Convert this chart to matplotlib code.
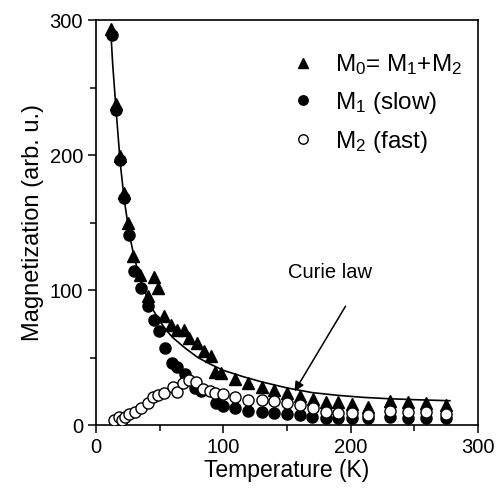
import matplotlib
matplotlib.use('Agg')
import matplotlib.pyplot as plt
from matplotlib.ticker import MultipleLocator

plt.rcParams['font.family'] = ['Liberation Sans', 'DejaVu Sans']
plt.rcParams['mathtext.fontset'] = 'custom'
plt.rcParams['mathtext.rm'] = 'Liberation Sans'
plt.rcParams['mathtext.it'] = 'Liberation Sans'

# M0 = M1 + M2 (triangles)
t0 = [11.8, 15.5, 18.9, 22, 25.4, 28.8, 34.6, 40.6, 45.6, 49, 53.4, 58.7, 63.9, 69.4,
      73.3, 79.1, 84.8, 90.1, 93.5, 98.5, 109, 119.6, 130, 140, 150, 160, 170.5,
      180.7, 190.3, 200.8, 213.8, 230.9, 245.3, 259.2, 274.9]
m0 = [293, 238, 199, 172, 150, 125, 111.5, 95.4, 110, 101.6, 80.5, 74.3, 70.6, 70.6,
      64.5, 60.7, 54.5, 50.8, 39.6, 38.4, 34, 31.5, 28.5, 26, 23.5, 21.6, 19.1,
      17.3, 17.0, 15.8, 13.5, 18, 17.0, 16.5, 15]

# M1 slow (filled circles)
t1 = [12.3, 15.7, 18.9, 22.3, 26.2, 30.1, 35.1, 41, 45.6, 49.7, 54.2, 59.5, 63.9,
      69.9, 77.8, 82.2, 94.3, 99.5, 109.5, 119.6, 130, 140, 150, 160, 170, 180.7,
      190.3, 200.8, 213.8, 230.9, 245.3, 259.2, 274.9]
m1 = [289, 233, 196, 168, 140.5, 114, 101.6, 88, 78, 70, 57, 45.8, 43.3,
      37.9, 27.3, 25.5, 16.1, 14.1, 12.4, 10.6, 9.9, 8.7, 7.9, 7.4, 5.7, 5,
      5.5, 5.5, 5, 6, 5.5, 5.5, 5.5]

# M2 fast (open circles)
t2 = [14.4, 17.8, 20.4, 23, 26.2, 30.9, 35.3, 40.6, 44.5, 48.4, 53.7, 60.2, 63.4,
      68.6, 73.3, 78.5, 83.8, 89.5, 93.5, 99.5, 109, 119.6, 130, 140, 150, 160,
      170.5, 180.7, 190.3, 200.8, 213.8, 230.9, 245.3, 259.2, 274.9]
m2 = [3.7, 5.7, 4, 6.2, 8.2, 9.9, 12.4, 16, 20.5, 22.3, 23.5, 28.5, 24.8,
      31.5, 33, 32, 26.5, 25.5, 24, 23, 21, 18.6, 18.6, 17.5, 16.5, 14.9,
      12.4, 9.5, 9, 8.7, 7.4, 10.5, 9.5, 9.5, 8]

# Curie law line
tc = [11.5, 13, 15.5, 19, 22, 26, 30, 35, 40, 45, 50, 55, 60, 70, 80, 90, 100,
      115, 130, 150, 170, 190, 210, 230, 250, 278]
mc = [293, 268, 236, 194, 168, 142, 124, 107, 95, 85, 77, 70.5, 65, 57, 50, 45, 40.5,
      36, 32, 27.5, 24, 22, 20.5, 19.5, 18.8, 18]

fig = plt.figure(figsize=(5.03, 4.88), dpi=100)
ax = fig.add_axes([0.191, 0.129, 0.759, 0.83])

ax.plot(tc, mc, '-', color='black', lw=1.2, zorder=1)
ax.plot(t0, m0, '^', color='black', ms=8.5, ls='none', label=r'M$_0$= M$_1$+M$_2$', zorder=3)
ax.plot(t1, m1, 'o', color='black', ms=8, ls='none', label='M$_1$ (slow)', zorder=2)
ax.plot(t2, m2, 'o', mfc='white', mec='black', mew=1, ms=8, ls='none',
        label='M$_2$ (fast)', zorder=4)

ax.text(184, 106, 'Curie law', fontsize=14.5, ha='center', va='bottom')
ax.annotate('', xy=(156, 25), xytext=(196, 88),
            arrowprops=dict(arrowstyle='-|>', color='black', lw=1.1,
                            shrinkA=0, shrinkB=0, mutation_scale=14))

ax.set_xlim(0, 300)
ax.set_ylim(0, 300)
ax.xaxis.set_major_locator(MultipleLocator(100))
ax.xaxis.set_minor_locator(MultipleLocator(50))
ax.yaxis.set_major_locator(MultipleLocator(100))
ax.yaxis.set_minor_locator(MultipleLocator(50))
ax.tick_params(which='major', direction='out', length=6, width=1.1, labelsize=14.5)
ax.tick_params(which='minor', direction='out', length=4, width=1.1)
for s in ax.spines.values():
    s.set_linewidth(1.2)

ax.set_xlabel('Temperature (K)', fontsize=16.5, labelpad=1)
ax.set_ylabel('Magnetization (arb. u.)', fontsize=17, labelpad=4)

ax.legend(loc='upper left', bbox_to_anchor=(0.453, 0.975), frameon=False,
          fontsize=17.5, handlelength=1.0, handletextpad=0.8, labelspacing=0.53,
          markerscale=0.85)

fig.savefig('out.png', dpi=100)
